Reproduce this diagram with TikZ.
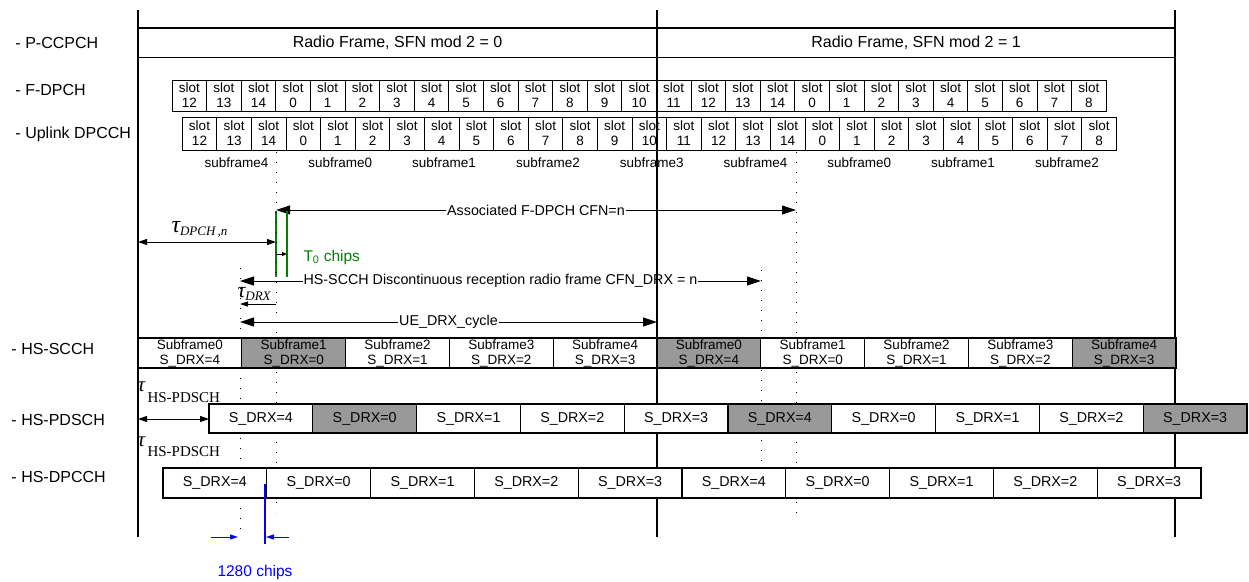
\documentclass[tikz,border=0pt]{standalone}
\usepackage{fontspec}
\setmainfont{Liberation Sans}
\newfontfamily\timesfont{Liberation Serif}
\usetikzlibrary{arrows.meta}
\definecolor{shadegray}{RGB}{153,153,153}
\definecolor{chipgreen}{RGB}{0,128,0}
\def\fs#1{\fontsize{#1}{#1}\selectfont}
\tikzset{
	chname/.style={anchor=west, inner sep=0pt, font=\fontsize{16}{18}\selectfont},
	pcbox/.style={draw, line width=1.5pt, minimum width=519, minimum height=29.5, inner sep=0pt, outer sep=0pt, anchor=north west, font=\fontsize{16}{18}\selectfont},
	slotbox/.style={draw, line width=1pt, minimum width=34.6, minimum height=31, inner sep=0pt, outer sep=0pt, anchor=north west, align=center, font=\fontsize{13.5}{15}\selectfont},
	hsbox/.style={draw, line width=1.2pt, fill=white, minimum width=103.8, minimum height=30, inner sep=0pt, outer sep=0pt, anchor=north west, align=center},
	frameline/.style={line width=1.4pt},
	dotline/.style={line width=1pt, dash pattern=on 1.3pt off 8.7pt},
	bigtips/.style={{Triangle[length=14pt,width=9pt]}-{Triangle[length=14pt,width=9pt]}},
	bigtip/.style={-{Triangle[length=14pt,width=9pt]}},
	smalltips/.style={{Triangle[length=9pt,width=6pt]}-{Triangle[length=9pt,width=6pt]}},
	smalltip/.style={-{Triangle[length=8pt,width=5pt]}},
}

\begin{document}
\begin{tikzpicture}[x=1pt, y=-1pt, line width=1pt, font=\fontsize{14.3}{16}\selectfont]
	\useasboundingbox (0,0) rectangle (1249,581);
	
	%% channel names
	\node[chname] (npccpch) at (15,43) {- P-CCPCH};
	\node[chname] (nfdpch) at (15,90) {- F-DPCH};
	\node[chname] (nuldpcch) at (15,134) {- Uplink DPCCH};
	\node[chname] (nhsscch) at (11,349) {- HS-SCCH};
	\node[chname] (nhspdsch) at (11,420) {- HS-PDSCH};
	\node[chname] (nhsdpcch) at (11,477) {- HS-DPCCH};
	
	%% timing arrows
	\coordinate (cfnA) at (276,210);
	\coordinate (cfnB) at (796,210);
	\draw[bigtips] (cfnA) -- node[fill=white, inner sep=1pt] (cfnlbl) {Associated F-DPCH CFN=n} (cfnB);
	
	\coordinate (dpchA) at (138,242);
	\coordinate (dpchB) at (276,242);
	\draw[smalltips] (dpchA) -- (dpchB);
	\node[anchor=base west, inner sep=0pt] (taudpch) at (171,232) {\timesfont\itshape\fs{24}τ\fs{13}\raisebox{-3pt}{DPCH\,,n}};
	
	\draw[chipgreen, line width=1.3pt] (276,211) -- (276,277);
	\draw[chipgreen, line width=1.3pt] (287,211) -- (287,277);
	\coordinate (tzA) at (276,254);
	\coordinate (tzB) at (287,254);
	\draw[-{Triangle[length=5pt,width=4pt]}] (tzA) -- (tzB);
	\node[chipgreen, anchor=base west, inner sep=0pt, font=\fontsize{15.5}{17}\selectfont] (tzero) at (303,261) {T\textsubscript{0} chips};
	
	\coordinate (drxA) at (240,281);
	\coordinate (drxB) at (761,281);
	\draw[bigtips] (drxA) -- node[fill=white, inner sep=1pt] (drxlbl) {HS-SCCH Discontinuous reception radio frame CFN\_DRX = n} (drxB);
	
	\coordinate (tdA) at (276,304);
	\coordinate (tdB) at (240,304);
	\draw[smalltip] (tdA) -- (tdB);
	\node[anchor=base west, inner sep=0pt] (taudrx) at (237,297) {\timesfont\itshape\fs{22}τ\fs{13}\raisebox{-3pt}{DRX}};
	
	\coordinate (cycA) at (240,322);
	\coordinate (cycB) at (657,322);
	\draw[bigtips] (cycA) -- node[fill=white, inner sep=1pt] (cyclbl) {UE\_DRX\_cycle} (cycB);
	
	\coordinate (pdA) at (138,419);
	\coordinate (pdB) at (209,419);
	\draw[smalltips] (pdA) -- (pdB);
	\node[anchor=base west, inner sep=0pt] (taupda) at (137,391) {\timesfont\itshape\fs{21}τ};
	\node[anchor=base west, inner sep=0pt] (pdlbla) at (147,402) {\timesfont\fs{15}HS-PDSCH};
	\node[anchor=base west, inner sep=0pt] (taupdb) at (137,446) {\timesfont\itshape\fs{21}τ};
	\node[anchor=base west, inner sep=0pt] (pdlblb) at (147,456) {\timesfont\fs{15}HS-PDSCH};
	
	%% frame borders and subframe marks
	\draw[frameline] (138,10) -- (138,537);
	\draw[frameline] (657,10) -- (657,537);
	\draw[frameline] (1175,10) -- (1175,537);
	\draw[dotline] (240,268) -- (240,537);
	\draw[dotline] (276,152) -- (276,512);
	\draw[dotline] (761,270) -- (761,468);
	\draw[dotline] (796,152) -- (796,520);
	
	%% P-CCPCH
	\node[pcbox] (rf0) at (138,28) {Radio Frame, SFN mod 2 = 0};
	\node[pcbox, minimum width=518] (rf1) at (657,28) {Radio Frame, SFN mod 2 = 1};
	
	%% F-DPCH and uplink DPCCH slots
	\foreach \n [count=\i from 0] in {12,13,14,0,1,2,3,4,5,6,7,8,9,10,11,12,13,14,0,1,2,3,4,5,6,7,8}{
		\node[slotbox] (fd\i) at ({172+\i*34.6},80) {slot\\\n};
		\node[slotbox, minimum height=33] (ul\i) at ({182.2+\i*34.6},117) {slot\\\n};
	}
	\foreach \n [count=\i from 0] in {4,0,1,2,3,4,0,1,2}
		\node[font=\fontsize{13.5}{15}\selectfont] (sf\i) at ({236.5+\i*103.8},163) {subframe\n};
	
	%% HS-SCCH
	\foreach \sf/\sd/\col [count=\i from 0] in {0/4/white,1/0/shadegray,2/1/white,3/2/white,4/3/white,0/4/shadegray,1/0/white,2/1/white,3/2/white,4/3/shadegray}
		\node[hsbox, fill=\col, font=\fontsize{13.5}{15}\selectfont] (scch\i) at ({138+\i*103.8},338) {Subframe\sf\\S\_DRX=\sd};
	
	%% HS-PDSCH
	\foreach \sd/\col [count=\i from 0] in {4/white,0/shadegray,1/white,2/white,3/white,4/shadegray,0/white,1/white,2/white,3/shadegray}
		\node[hsbox, fill=\col, minimum height=29] (pdsch\i) at ({209+\i*103.8},404) {S\_DRX=\sd};
	
	%% HS-DPCCH
	\foreach \sd [count=\i from 0] in {4,0,1,2,3,4,0,1,2,3}
		\node[hsbox] (dpcch\i) at ({163+\i*103.8},468) {S\_DRX=\sd};
	
	%% 1280 chips
	\draw[blue, line width=1.3pt] (265,484) -- (265,544);
	\coordinate (bA) at (211,537);
	\coordinate (bB) at (238,537);
	\coordinate (bC) at (289,537);
	\coordinate (bD) at (266,537);
	\draw[blue, smalltip] (bA) -- (bB);
	\draw[blue, smalltip] (bC) -- (bD);
	\node[blue, anchor=base west, inner sep=0pt, font=\fontsize{15.5}{17}\selectfont] (chips) at (217,576) {1280 chips};
\end{tikzpicture}
\end{document}
